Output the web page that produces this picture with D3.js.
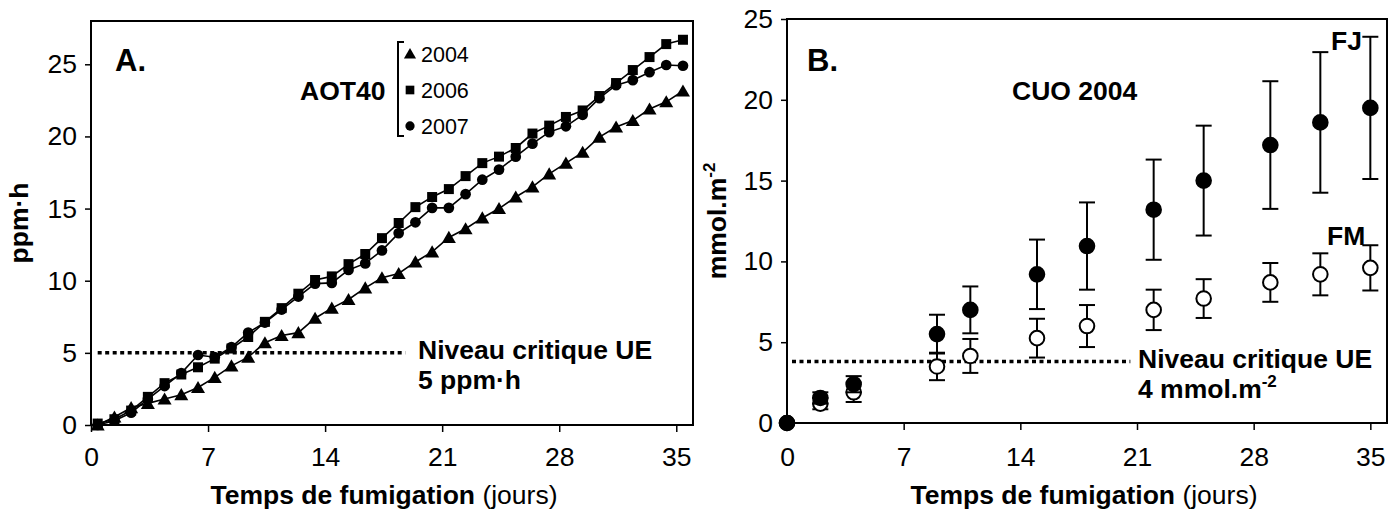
<!DOCTYPE html>
<html><head><meta charset="utf-8">
<script src="https://cdn.jsdelivr.net/npm/d3@7"></script>
<style>
body{margin:0;background:#fff}
svg{display:block}
text{font-family:Arial,"Liberation Sans",sans-serif;fill:#000}
</style></head>
<body><svg id="c" width="1389" height="510"></svg>
<script>
// ---- Panel A data (AOT40, ppm·h) ----
const daysA = [0.4,1.4,2.4,3.4,4.4,5.4,6.4,7.4,8.4,9.4,10.4,11.4,12.4,13.4,14.4,15.4,16.4,17.4,18.4,19.4,20.4,21.4,22.4,23.4,24.4,25.4,26.4,27.4,28.4,29.4,30.4,31.4,32.4,33.4,34.4,35.4];
const aot2004 = [0,0.55,1.2,1.5,1.8,2.1,2.6,3.3,4.1,4.7,5.7,6.2,6.4,7.4,8.1,8.7,9.5,10.2,10.5,11.3,12.0,13.0,13.6,14.35,15.0,15.8,16.5,17.4,18.15,18.9,19.95,20.65,21.1,21.9,22.4,23.15];
const aot2006 = [0.1,0.4,1.0,1.95,2.9,3.5,4.0,4.6,5.3,6.1,7.15,8.1,9.1,10.05,10.3,11.15,11.85,12.95,14.0,15.1,15.8,16.35,17.25,18.15,18.6,19.2,20.2,20.75,21.35,21.8,22.8,23.7,24.6,25.5,26.4,26.7];
const aot2007 = [0,0.3,0.85,1.8,2.7,3.6,4.85,4.7,5.4,6.4,7.1,8.0,8.9,9.8,9.85,10.75,11.2,12.1,13.3,14.05,15.05,15.05,16.0,17.0,17.7,18.6,19.5,20.3,20.7,21.5,22.65,23.55,23.9,24.45,24.95,24.9];
const seriesA = ["2004","2006","2007"];
const symbolsA = ["triangle","square","circle"];

// ---- Panel B data (CUO 2004, mmol.m-2) ----
const daysB = [0,2,4,9,11,15,18,22,25,29,32,35];
const fjMean = [0,1.55,2.4,5.5,7.0,9.2,10.95,13.2,15.0,17.2,18.6,19.5];
const fjErr  = [0,0.35,0.5,1.2,1.45,2.15,2.7,3.1,3.4,3.95,4.35,4.4];
const fmMean = [0,1.2,1.9,3.5,4.15,5.25,6.0,7.0,7.7,8.7,9.2,9.6];
const fmErr  = [0,0.35,0.6,0.85,1.05,1.2,1.3,1.25,1.2,1.2,1.3,1.4];

const xTicks = [0,7,14,21,28,35];
const yTicks = [0,5,10,15,20,25];
const critA = 5, critB = 3.8;

const svg = d3.select("#c");
const TICKFONT = 26.5;
const LBL = 26.5;

function frameAxes(g, x, y, padX, padY){
  const [x0,x1] = x.range(), [y0,y1] = y.range();
  const ax = g.append("g").attr("transform",`translate(0,${y0})`)
    .call(d3.axisBottom(x).tickValues(xTicks).tickSize(7).tickPadding(padX));
  const ay = g.append("g").attr("transform",`translate(${x0},0)`)
    .call(d3.axisLeft(y).tickValues(yTicks).tickSize(6).tickPadding(padY));
  [ax,ay].forEach(a=>{
    a.select(".domain").remove();
    a.selectAll("line").attr("stroke","#000").attr("stroke-width",1.5);
    a.selectAll("text").attr("font-size",TICKFONT).attr("font-family","Arial,'Liberation Sans',sans-serif").attr("fill","#000");
  });
  g.append("rect").attr("x",x0).attr("y",y1).attr("width",x1-x0).attr("height",y0-y1)
    .attr("fill","none").attr("stroke","#000").attr("stroke-width",2);
}

// ================= Panel A =================
const xA = d3.scaleLinear([0,36],[91,693]);
const yA = d3.scaleLinear([0,28],[425,21]);
const gA = svg.append("g");
frameAxes(gA, xA, yA, 15, 8);

gA.append("line").attr("x1",xA(0.4)).attr("x2",xA(18.8)).attr("y1",yA(critA)).attr("y2",yA(critA))
  .attr("stroke","#000").attr("stroke-width",3.5).attr("stroke-dasharray","4,3.5");

const valsA = [aot2004, aot2006, aot2007];
const symTypes = {triangle:d3.symbolTriangle, square:d3.symbolSquare, circle:d3.symbolCircle};
const symSizes = {triangle:85, square:100, circle:90};
const lineA = d3.line().x(d=>xA(d[0])).y(d=>yA(d[1]));
valsA.forEach((vals,i)=>{
  const pts = daysA.map((d,j)=>[d,vals[j]]);
  gA.append("path").attr("d",lineA(pts)).attr("fill","none").attr("stroke","#000").attr("stroke-width",1.6);
});
valsA.forEach((vals,i)=>{
  const s = symbolsA[i];
  const sym = d3.symbol().type(symTypes[s]).size(symSizes[s]);
  gA.append("g").selectAll("path").data(daysA.map((d,j)=>[d,vals[j]])).join("path")
    .attr("transform",d=>`translate(${xA(d[0])},${yA(d[1]) + (s==="triangle"?1.5:0)})`)
    .attr("d",sym()).attr("fill","#000");
});

gA.append("text").attr("x",115).attr("y",71).attr("font-size",31).attr("font-weight","bold").text("A.");
gA.append("text").attr("x",300).attr("y",100).attr("font-size",LBL).attr("font-weight","bold").text("AOT40");

// legend
const lg = gA.append("g");
lg.append("path").attr("d","M404,42 H398 V136 H404").attr("fill","none").attr("stroke","#000").attr("stroke-width",2);
seriesA.forEach((name,i)=>{
  const s = symbolsA[i];
  const cy = 54 + i*36;
  const sym = d3.symbol().type(symTypes[s]).size(symSizes[s]*0.75);
  lg.append("path").attr("transform",`translate(410,${cy+(s==="triangle"?1:0)})`).attr("d",sym()).attr("fill","#000");
  lg.append("text").attr("x",421).attr("y",cy+8).attr("font-size",21.5).text(name);
});

gA.append("text").attr("x",418).attr("y",359).attr("font-size",LBL).attr("font-weight","bold").text("Niveau critique UE");
gA.append("text").attr("x",418).attr("y",389).attr("font-size",LBL).attr("font-weight","bold").text("5 ppm·h");

const tA = gA.append("text").attr("x",384).attr("y",504).attr("text-anchor","middle").attr("font-size",LBL);
tA.append("tspan").attr("font-weight","bold").text("Temps de fumigation ");
tA.append("tspan").text("(jours)");
gA.append("text").attr("transform","translate(28,223) rotate(-90)").attr("text-anchor","middle")
  .attr("font-size",LBL).attr("font-weight","bold").text("ppm·h");

// ================= Panel B =================
const xB = d3.scaleLinear([0,36],[787,1387]);
const yB = d3.scaleLinear([0,25],[423,19]);
const gB = svg.append("g");
frameAxes(gB, xB, yB, 17, 8);

gB.append("line").attr("x1",xB(0.3)).attr("x2",xB(20.6)).attr("y1",yB(critB)).attr("y2",yB(critB))
  .attr("stroke","#000").attr("stroke-width",3.5).attr("stroke-dasharray","4,3.5");

function drawSeries(mean, err, filled){
  const g = gB.append("g");
  daysB.forEach((d,i)=>{
    if(err[i] > 0){
      const cx = xB(d), yt = yB(mean[i]+err[i]), yb = yB(mean[i]-err[i]);
      g.append("line").attr("x1",cx).attr("x2",cx).attr("y1",yt).attr("y2",yb).attr("stroke","#000").attr("stroke-width",2);
      [yt,yb].forEach(yy=>g.append("line").attr("x1",cx-8).attr("x2",cx+8).attr("y1",yy).attr("y2",yy).attr("stroke","#000").attr("stroke-width",2));
    }
  });
  g.selectAll("circle").data(daysB.map((d,i)=>[d,mean[i]])).join("circle")
    .attr("cx",d=>xB(d[0])).attr("cy",d=>yB(d[1])).attr("r",7.3)
    .attr("fill",filled?"#000":"#fff").attr("stroke","#000").attr("stroke-width",2);
}
drawSeries(fmMean, fmErr, false);
drawSeries(fjMean, fjErr, true);

gB.append("text").attr("x",807).attr("y",71).attr("font-size",31).attr("font-weight","bold").text("B.");
gB.append("text").attr("x",1012).attr("y",100).attr("font-size",LBL).attr("font-weight","bold").text("CUO 2004");
gB.append("text").attr("x",1331).attr("y",50).attr("font-size",LBL).attr("font-weight","bold").text("FJ");
gB.append("text").attr("x",1327).attr("y",245).attr("font-size",LBL).attr("font-weight","bold").text("FM");

gB.append("text").attr("x",1138).attr("y",368).attr("font-size",LBL).attr("font-weight","bold").text("Niveau critique UE");
const nB = gB.append("text").attr("x",1138).attr("y",398).attr("font-size",LBL).attr("font-weight","bold");
nB.append("tspan").text("4 mmol.m");
nB.append("tspan").attr("font-size",17).attr("dy",-11).text("-2");

const tB = gB.append("text").attr("x",1084).attr("y",504).attr("text-anchor","middle").attr("font-size",LBL);
tB.append("tspan").attr("font-weight","bold").text("Temps de fumigation ");
tB.append("tspan").text("(jours)");
const yl = gB.append("text").attr("transform","translate(726,221) rotate(-90)").attr("text-anchor","middle")
  .attr("font-size",LBL).attr("font-weight","bold");
yl.append("tspan").text("mmol.m");
yl.append("tspan").attr("font-size",17).attr("dy",-11).text("-2");
</script></body></html>
